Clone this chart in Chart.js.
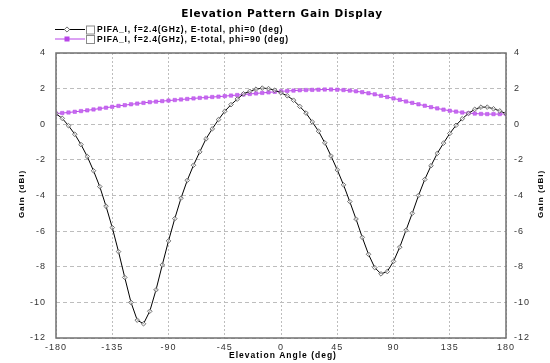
<!DOCTYPE html>
<html>
<head>
<meta charset="utf-8">
<script src="https://cdn.jsdelivr.net/npm/chart.js@4.4.0/dist/chart.umd.min.js"></script>
<style>
  html, body { margin: 0; padding: 0; background: #fff; }
  #wrap { position: relative; width: 550px; height: 363px; }
</style>
</head>
<body>
<div id="wrap"><canvas id="gain-chart" width="550" height="363"></canvas></div>
<script>
// Elevation pattern gain display – PIFA_I @ 2.4 GHz

const ANGLES = [
  -180, -175, -170, -165, -160, -155, -150, -145, -140, -135, -130, -125, -120,
  -115, -110, -105, -100, -95, -90, -85, -80, -75, -70, -65, -60,
  -55, -50, -45, -40, -35, -30, -25, -20, -15, -10, -5, 0,
  5, 10, 15, 20, 25, 30, 35, 40, 45, 50, 55, 60,
  65, 70, 75, 80, 85, 90, 95, 100, 105, 110, 115, 120,
  125, 130, 135, 140, 145, 150, 155, 160, 165, 170, 175, 180
];

// phi = 0 (deg)
const GAIN_PHI0 = [
  0.59, 0.33, -0.08, -0.56, -1.14, -1.81, -2.61, -3.5, -4.6, -5.8, -7.15, -8.6, -10.0,
  -11.0, -11.2, -10.5, -9.3, -7.9, -6.55, -5.3, -4.15, -3.15, -2.3, -1.55, -0.82,
  -0.26, 0.26, 0.73, 1.1, 1.41, 1.71, 1.85, 1.97, 2.03, 2.0, 1.91, 1.76,
  1.6, 1.35, 1.0, 0.63, 0.13, -0.39, -1.04, -1.78, -2.56, -3.4, -4.34, -5.32,
  -6.35, -7.3, -8.05, -8.4, -8.27, -7.7, -6.9, -5.95, -5.0, -4.0, -3.1, -2.33,
  -1.64, -1.06, -0.52, -0.06, 0.31, 0.61, 0.84, 0.96, 0.96, 0.87, 0.75, 0.6
];

// phi = 90 (deg)
const GAIN_PHI90 = [
  0.6, 0.63, 0.66, 0.7, 0.74, 0.78, 0.83, 0.88, 0.93, 0.98, 1.03, 1.07, 1.12,
  1.16, 1.2, 1.24, 1.27, 1.3, 1.33, 1.36, 1.39, 1.42, 1.45, 1.48, 1.5,
  1.53, 1.55, 1.58, 1.61, 1.64, 1.67, 1.7, 1.73, 1.76, 1.79, 1.82, 1.85,
  1.87, 1.89, 1.91, 1.92, 1.93, 1.94, 1.95, 1.95, 1.94, 1.92, 1.89, 1.85,
  1.8, 1.74, 1.68, 1.6, 1.53, 1.45, 1.37, 1.28, 1.2, 1.12, 1.04, 0.96,
  0.89, 0.82, 0.76, 0.71, 0.66, 0.62, 0.6, 0.58, 0.57, 0.57, 0.57, 0.58
];

const X_TICKS = [-180, -135, -90, -45, 0, 45, 90, 135, 180];
const Y_TICKS = [-12, -10, -8, -6, -4, -2, 0, 2, 4];

const SERIES_LABELS = [
  'PIFA_I, f=2.4(GHz), E-total, phi=0 (deg)',
  'PIFA_I, f=2.4(GHz), E-total, phi=90 (deg)'
];

const FONT = "'Liberation Sans', Arial, sans-serif";
const COR_PHI0 = '#000000';
const COR_PHI0_PT = '#6e6e6e';
const COR_PHI90 = '#b845e8';

const toPoints = (vals) => vals.map((v, i) => ({ x: ANGLES[i], y: v }));

// espaçamento entre letras (as fontes do original são bem "abertas")
const spacingPlugin = {
  id: 'spacing',
  beforeDraw(chart) { chart.ctx.letterSpacing = '1px'; },
  afterDraw(chart) { chart.ctx.letterSpacing = '0px'; }
};

// ─── Textos, moldura e legenda desenhados à mão ─────────────────────────────
const overlayPlugin = {
  id: 'overlay',
  afterDatasetsDraw(chart) {
    const { ctx, chartArea: a } = chart;
    ctx.save();

    // moldura do gráfico
    ctx.strokeStyle = '#707070';
    ctx.lineWidth = 1.5;
    ctx.strokeRect(a.left, a.top, a.right - a.left, a.bottom - a.top);

    // título
    ctx.fillStyle = '#000';
    ctx.letterSpacing = '0.7px';
    ctx.font = `bold 10.5px 'DejaVu Sans', ${FONT}`;
    ctx.textAlign = 'center';
    ctx.textBaseline = 'middle';
    ctx.fillText('Elevation Pattern Gain Display', 282, 14);

    // legenda
    const legendRows = [
      { y: 29.5, color: COR_PHI0, pt: 'rectRot', ptColor: COR_PHI0_PT, fill: '#fff' },
      { y: 39, color: COR_PHI90, pt: 'rect', ptColor: COR_PHI90, fill: COR_PHI90 }
    ];
    legendRows.forEach((row, i) => {
      ctx.strokeStyle = row.color;
      ctx.lineWidth = 1;
      ctx.beginPath();
      ctx.moveTo(55, row.y);
      ctx.lineTo(85, row.y);
      ctx.stroke();
      ctx.fillStyle = row.fill;
      ctx.strokeStyle = row.ptColor;
      if (row.pt === 'rect') {
        ctx.fillRect(64.5, row.y - 2.5, 5, 5);
      } else {
        ctx.beginPath();
        ctx.moveTo(67, row.y - 2.6); ctx.lineTo(69.6, row.y);
        ctx.lineTo(67, row.y + 2.6); ctx.lineTo(64.4, row.y);
        ctx.closePath(); ctx.fill(); ctx.stroke();
      }
      // caixinha
      ctx.fillStyle = '#fff';
      ctx.fillRect(86, row.y - 4, 8, 8);
      ctx.strokeStyle = '#8a8a8a';
      ctx.lineWidth = 1;
      ctx.strokeRect(86.5, row.y - 3.5, 8, 8);
      ctx.fillStyle = '#000';
      ctx.letterSpacing = '0.8px';
      ctx.font = `bold 8.5px ${FONT}`;
      ctx.textAlign = 'left';
      ctx.textBaseline = 'middle';
      ctx.fillText(SERIES_LABELS[i], 97, row.y + 0.5);
    });

    // título eixo x
    ctx.letterSpacing = '1px';
    ctx.font = `bold 8.5px ${FONT}`;
    ctx.textAlign = 'center';
    ctx.fillText('Elevation Angle (deg)', 283, 356);

    // títulos eixo y (esquerda e direita)
    [22, 541].forEach(x => {
      ctx.save();
      ctx.translate(x, 194);
      ctx.rotate(-Math.PI / 2);
      ctx.letterSpacing = '1px';
      ctx.font = `bold 8px ${FONT}`;
      ctx.textAlign = 'center';
      ctx.textBaseline = 'middle';
      ctx.fillText('Gain (dBi)', 0, 0);
      ctx.restore();
    });

    ctx.restore();
  }
};

const tickFont = { family: FONT, size: 9 };

new Chart(document.getElementById('gain-chart').getContext('2d'), {
  type: 'line',
  data: {
    datasets: [
      {
        label: SERIES_LABELS[0],
        data: toPoints(GAIN_PHI0),
        borderColor: COR_PHI0,
        borderWidth: 1,
        pointStyle: 'rectRot',
        pointRadius: 2.3,
        pointBorderWidth: 1,
        pointBorderColor: COR_PHI0_PT,
        pointBackgroundColor: 'rgba(255,255,255,0.6)',
        tension: 0,
        order: 1
      },
      {
        label: SERIES_LABELS[1],
        data: toPoints(GAIN_PHI90),
        borderColor: COR_PHI90,
        borderWidth: 1,
        pointStyle: 'rect',
        pointRadius: 2.4,
        pointBorderWidth: 0.5,
        pointBorderColor: COR_PHI90,
        pointBackgroundColor: '#c66cf0',
        tension: 0,
        order: 2
      }
    ]
  },
  options: {
    responsive: false,
    animation: false,
    layout: { padding: { top: 53, left: 0, right: 0, bottom: 0 } },
    plugins: {
      legend: { display: false },
      title: { display: false },
      tooltip: { enabled: false }
    },
    scales: {
      x: {
        type: 'linear',
        min: -180,
        max: 180,
        afterBuildTicks: (s) => { s.ticks = X_TICKS.map(v => ({ value: v })); },
        afterFit: (s) => { s.height = 25; },
        ticks: { font: tickFont, color: '#333', padding: 4, maxRotation: 0 },
        grid: { color: '#bdbdbd', lineWidth: 1, drawTicks: false, borderDash: [2, 2] },
        border: { display: false, dash: [2, 2] }
      },
      y: {
        position: 'left',
        min: -12,
        max: 4,
        afterBuildTicks: (s) => { s.ticks = Y_TICKS.map(v => ({ value: v })); },
        afterFit: (s) => { s.width = 56; },
        ticks: { font: tickFont, color: '#333', padding: 10 },
        grid: { color: '#bdbdbd', lineWidth: 1, drawTicks: false, borderDash: [4, 3] },
        border: { display: false, dash: [4, 3] }
      },
      y2: {
        position: 'right',
        min: -12,
        max: 4,
        afterBuildTicks: (s) => { s.ticks = Y_TICKS.map(v => ({ value: v })); },
        afterFit: (s) => { s.width = 44; },
        ticks: { font: tickFont, color: '#333', padding: 8 },
        grid: { display: false, drawTicks: false },
        border: { display: false }
      }
    }
  },
  plugins: [spacingPlugin, overlayPlugin]
});
</script>
</body>
</html>
